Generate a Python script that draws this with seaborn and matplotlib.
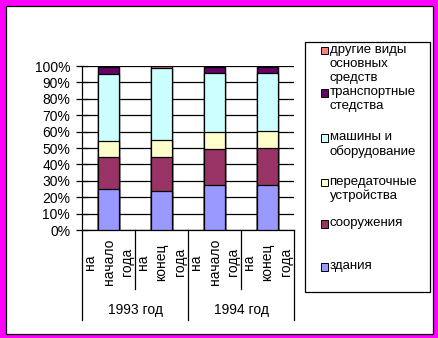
import numpy as np
import pandas as pd
import seaborn as sns
import matplotlib
matplotlib.use("Agg")
import matplotlib.pyplot as plt
from matplotlib.patches import Rectangle
from matplotlib.transforms import blended_transform_factory

# ---- data ----
categories = ["1993 н", "1993 к", "1994 н", "1994 к"]
cat_labels = ["на\nначало\nгода", "на\nконец\nгода", "на\nначало\nгода", "на\nконец\nгода"]
groups = ["1993 год", "1994 год"]
series_names = ["здания", "сооружения", "передаточные\nустройства",
                "машины и\nоборудование", "транспортные\nстедства",
                "другие виды\nосновных\nсредств"]
zdaniya = [25.0, 23.6, 27.2, 27.2]
sooruzheniya = [19.5, 20.7, 22.0, 22.6]
peredatochnye = [9.8, 10.6, 10.4, 10.4]
mashiny = [40.8, 43.7, 35.9, 35.3]
transport = [4.3, 0.2, 4.1, 3.9]
drugie = [0.6, 1.2, 0.4, 0.6]
colors = ["#9999FF", "#993366", "#FFFFCC", "#CCFFFF", "#660066", "#FF8080"]

W, H = 438, 338
plt.rcParams['font.family'] = ['Liberation Sans', 'DejaVu Sans']
fig = plt.figure(figsize=(W / 100, H / 100), dpi=100)
fig.patch.set_facecolor("#FF00FF")

def fx(px):
    return px / W

def fy(py):
    return 1 - py / H

# white inner panel with black line
fig.add_artist(Rectangle((fx(5.5), fy(333.5)), fx(432.5) - fx(5.5), fy(5.5) - fy(333.5),
                         transform=fig.transFigure, facecolor="white",
                         edgecolor="black", linewidth=0.9, zorder=0))

ax = fig.add_axes([fx(82), fy(230), fx(294) - fx(82), fy(66) - fy(230)])
ax.set_facecolor("none")

series = [zdaniya, sooruzheniya, peredatochnye, mashiny, transport, drugie]
arr = np.array(series, dtype=float)
pct = arr / arr.sum(axis=0) * 100
cum = np.cumsum(pct, axis=0)

df = pd.DataFrame({"cat": categories})
for i in range(len(series) - 1, -1, -1):
    df["v"] = cum[i]
    sns.barplot(data=df, x="cat", y="v", order=categories, color=colors[i],
                saturation=1, width=0.4, edgecolor="black", linewidth=0.9,
                ax=ax, zorder=3)

ax.set_xlim(-0.5, len(categories) - 0.5)
ax.set_ylim(0, 100)
ax.set_yticks(np.arange(0, 101, 10))
ax.set_yticklabels([f"{v}%" for v in range(0, 101, 10)], fontsize=10)
ax.yaxis.grid(True, color="black", linewidth=0.9)
ax.set_axisbelow(True)
ax.tick_params(axis="y", direction="inout", length=9, width=0.9, pad=4, colors="black")
ax.set_xticks([])
ax.set_xlabel("")
ax.set_ylabel("")
for s in ["top", "right"]:
    ax.spines[s].set_visible(False)
for s in ["left", "bottom"]:
    ax.spines[s].set_color("black")
    ax.spines[s].set_linewidth(0.9)

# hierarchical category axis
trans = blended_transform_factory(ax.transData, ax.transAxes)
ah = 164.0
for b in [-0.5, 1.5, 3.5]:
    ax.plot([b, b], [0, -(320 - 230) / ah], transform=trans, color="black",
            linewidth=0.9, clip_on=False)
for b in [0.5, 2.5]:
    ax.plot([b, b], [0, -(289 - 230) / ah], transform=trans, color="black",
            linewidth=0.9, clip_on=False)
for i, lab in enumerate(cat_labels):
    ax.text(i, -(262 - 230) / ah, lab, transform=trans, rotation=90,
            ha="center", va="center", multialignment="center",
            fontsize=10, linespacing=1.45)
for g, lab in enumerate(groups):
    ax.text(2 * g + 0.5, -(310 - 230) / ah, lab, transform=trans,
            ha="center", va="center", fontsize=10)

# legend box
fig.add_artist(Rectangle((fx(305), fy(292)), fx(430) - fx(305), fy(42) - fy(292),
                         transform=fig.transFigure, facecolor="white",
                         edgecolor="black", linewidth=0.9, zorder=1))
entry_y = [267, 224, 182.5, 138, 93, 50.5]
for i, name in enumerate(series_names):
    y = entry_y[i]
    fig.add_artist(Rectangle((fx(320.5), fy(y + 3.8)), fx(328) - fx(320.5), fy(y - 3.8) - fy(y + 3.8),
                             transform=fig.transFigure, facecolor=colors[i],
                             edgecolor="black", linewidth=0.7, zorder=2))
    fig.text(fx(329.5), fy(y - 7), name, ha="left", va="top", fontsize=9.5,
             linespacing=1.25, zorder=3)

fig.savefig("out.png", dpi=100, facecolor=fig.get_facecolor())
